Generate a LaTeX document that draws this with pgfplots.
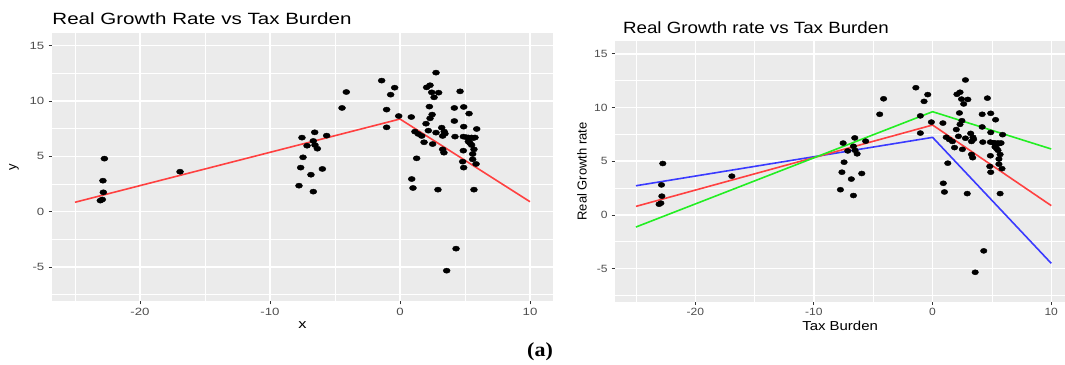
\documentclass[border=0pt]{standalone}
\usepackage{pgfplots}
\pgfplotsset{compat=1.18}
\usepackage{pgfplotstable}
\usepackage{fontspec}
\setmainfont{Liberation Sans}
\newfontfamily\serifbf{Liberation Serif}
\definecolor{panelbg}{HTML}{EBEBEB}
\definecolor{ticktext}{HTML}{4D4D4D}
\definecolor{tickcol}{HTML}{333333}
\definecolor{lred}{HTML}{FF4040}
\definecolor{lgreen}{HTML}{22EE22}
\definecolor{lblue}{HTML}{3A3AFF}

\pgfplotstableread{
x y
-23.05 1.00
-22.90 1.10
-22.82 1.75
-22.85 2.80
-22.74 4.79
-16.92 3.61
-7.77 2.35
-7.64 3.98
-7.46 4.91
-7.54 6.69
-7.15 5.96
-6.85 3.34
-6.67 1.81
-6.67 6.39
-6.56 7.17
-6.54 6.02
-6.36 5.69
-5.97 3.86
-5.64 6.87
-4.46 9.37
-4.13 10.81
-1.41 11.84
-1.03 9.22
-1.03 7.62
-0.72 10.57
-0.41 11.20
-0.10 8.64
0.87 8.55
0.90 2.95
1.00 2.14
1.15 7.23
1.28 4.82
1.41 7.02
1.67 6.84
1.85 6.27
2.00 7.95
2.05 11.23
2.18 7.32
2.26 9.49
2.31 11.42
2.31 8.43
2.44 10.78
2.47 8.77
2.51 6.11
2.62 10.33
2.77 12.56
2.77 7.14
2.92 1.99
2.97 10.75
3.21 7.59
3.28 6.84
3.40 7.23
3.46 7.05
3.28 5.63
3.38 5.33
3.59 -5.33
4.18 9.37
4.18 8.19
4.23 6.78
4.31 -3.34
4.62 10.87
4.82 4.52
4.87 6.78
4.87 5.51
4.90 9.46
4.90 7.68
4.90 3.98
5.10 6.72
5.26 6.70
5.26 6.33
5.31 8.86
5.38 6.20
5.51 6.70
5.51 6.02
5.59 5.21
5.59 4.73
5.64 6.65
5.69 5.63
5.69 1.99
5.77 6.70
5.85 4.31
5.90 7.47
}\pts

\pgfplotsset{gg/.style={
  scale only axis,
  axis background/.style={fill=panelbg},
  axis line style={draw=none},
  xmin=-26.75, ymin=-8.05, ymax=16.15,
  xtick={-20,-10,0,10}, xticklabels={-20,-10,0,10},
  ytick={-5,0,5,10,15}, yticklabels={-5,0,5,10,15},
  minor xtick={-25,-15,-5,5}, minor ytick={-7.5,-2.5,2.5,7.5,12.5},
  grid=both,
  major grid style={white, line width=1.5pt},
  minor grid style={white, line width=0.7pt},
  tick align=outside, tick pos=left,
  major tick length=3.5pt, minor tick length=0pt,
  tick style={tickcol, line width=0.9pt},
  tick label style={font=\fontsize{10.5}{11}\selectfont, text=ticktext},
  label style={font=\fontsize{13}{14}\selectfont},
  xlabel style={anchor=center},
  ylabel style={anchor=center, rotate=0},
}}

\begin{document}
\begin{tikzpicture}
\useasboundingbox (0,0) rectangle (1065pt,364pt);

% left panel
\begin{axis}[gg,
  at={(52.25pt,63.2pt)}, anchor=south west,
  width=500.5pt, height=267.9pt, xmax=11.75,
  xticklabel style={xscale=1.26},
  yticklabel style={xscale=1.26},
  xlabel={x}, ylabel={y},
  xlabel style={at={(axis description cs:0.5,-0.09)}, xscale=1.26},
  ylabel style={at={(axis description cs:-0.0764,0.5)}},
]
\addplot[only marks, mark=*, mark size=2.6pt, mark options={xscale=1.35, fill=black, draw=black}] table[x=x,y=y] {\pts};
\addplot[lred, line width=1.6pt] coordinates {(-25,0.85) (0,8.37) (10,0.9)};
\end{axis}

% right panel
\begin{axis}[gg,
  at={(615.2pt,62.5pt)}, anchor=south west,
  width=449.8pt, height=260.1pt, xmax=11.16,
  xticklabel style={xscale=1.15},
  yticklabel style={xscale=1.15},
  xlabel={Tax Burden}, ylabel={Real Growth rate},
  xlabel style={at={(axis description cs:0.5,-0.094)}, xscale=1.15},
  ylabel style={at={(axis description cs:-0.0738,0.5)}},
]
\addplot[only marks, mark=*, mark size=2.55pt, mark options={xscale=1.3, fill=black, draw=black}] table[x=x,y=y] {\pts};
\addplot[lblue, line width=1.6pt] coordinates {(-25,2.72) (0,7.22) (10,-4.5)};
\addplot[lred, line width=1.6pt] coordinates {(-25,0.8) (0,8.37) (10,0.87)};
\addplot[lgreen, line width=1.6pt] coordinates {(-25,-1.12) (0,9.61) (10,6.14)};
\end{axis}

\node[anchor=base west, xscale=1.26, font=\fontsize{16.3}{18}\selectfont] at (48pt,339pt) {Real Growth Rate vs Tax Burden};
\node[anchor=base west, xscale=1.15, font=\fontsize{16.3}{18}\selectfont] at (619pt,330.5pt) {Real Growth rate vs Tax Burden};
\node[font=\serifbf\fontsize{20}{22}\selectfont\bfseries, xscale=1.1] at (540pt,12.3pt) {(a)};
\end{tikzpicture}
\end{document}
